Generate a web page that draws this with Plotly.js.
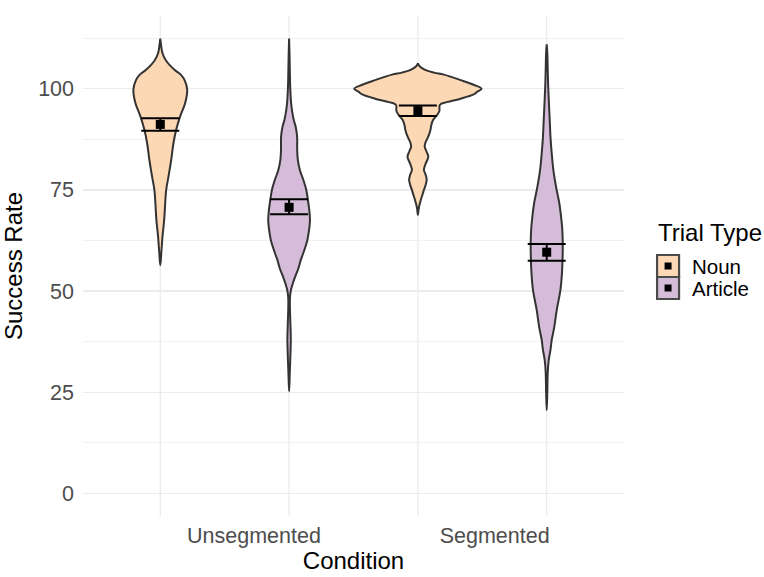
<!DOCTYPE html>
<html>
<head>
<meta charset="utf-8">
<script src="https://cdn.plot.ly/plotly-3.0.1.min.js"></script>
<style>html,body{margin:0;padding:0;background:#fff;}#chart{width:764px;height:577px;}</style>
</head>
<body>
<div id="chart"></div>
<script>
// ---- data ----
const conditions = ['Unsegmented', 'Segmented'];
const trialTypes = ['Noun', 'Article'];

// violin density profiles (value, relative half-width)
const nounUnsegY = [56.4, 59.4, 63.4, 67.6, 71.7, 75.0, 78.3, 82.4, 86.6, 89.9, 93.2, 96.5, 99.8, 102.2, 103.5, 104.7, 106.8, 108.8, 110.8, 112.4];
const nounUnsegD = [0, 1.0, 2.2, 3.9, 4.9, 5.9, 8.2, 10.9, 13.2, 15.9, 19.9, 24.9, 26.9, 24.2, 20.5, 14.2, 6.2, 2.2, 0.8, 0];

const articleUnsegY = [25.2, 30, 34, 38, 42, 46, 48.5, 50.2, 51.8, 53.5, 55.5, 57.7, 59.4, 62.5, 65.5, 67.6, 70, 72.7, 75, 77.5, 80, 82.5, 85, 88.2, 90.5, 92.3, 94.5, 96.5, 100.6, 105, 108.9, 112.4];
const articleUnsegD = [0, 0.7, 1.3, 1.7, 1.3, 0.8, 0.9, 1.8, 3.6, 6.0, 9.2, 11.7, 14.2, 18.2, 20.2, 20.9, 20.2, 18.7, 17.2, 14.2, 10.7, 8.7, 8.1, 8.0, 6.7, 4.7, 3.0, 2.0, 1.1, 0.7, 0.4, 0];

const nounSegY = [68.8, 70.0, 70.9, 72.5, 74.0, 75.0, 76.3, 77.5, 78.7, 80.0, 81.5, 83.2, 84.5, 85.7, 86.6, 87.4, 88.6, 89.9, 91.0, 92.3, 93.3, 94.5, 96.0, 96.7, 97.5, 98.6, 99.3, 100.0, 101.0, 102.2, 103.5, 104.0, 104.7, 105.5, 106.3];
const nounSegD = [0, 0.6, 1.2, 2.9, 4.8, 6.0, 7.8, 8.8, 7.8, 6.0, 7.8, 10.4, 8.6, 6.8, 7.4, 8.8, 11.0, 12.6, 13.4, 15.2, 18.5, 21.5, 21.9, 29, 42, 55.7, 59.5, 63.7, 55.7, 42, 26, 16, 7.2, 2.0, 0];

const articleSegY = [20.5, 25, 29.7, 32.9, 35.5, 37.9, 41, 45.3, 50.2, 55, 57.7, 59.3, 62.5, 65.5, 67.6, 71.7, 75.8, 80, 84.1, 88, 92.3, 96.5, 100.6, 104.8, 108.9, 111];
const articleSegD = [0, 0.6, 1.0, 2.0, 3.8, 5.0, 7.5, 10.0, 13.7, 15.4, 15.8, 16.0, 16.0, 15.5, 14.7, 12.6, 9.3, 6.6, 5.0, 3.8, 3.0, 2.2, 1.5, 1.0, 0.6, 0];

// mean and error bar ends per condition
const nounMean = [91.2, 94.6];
const nounUpper = [92.7, 95.9];
const nounLower = [89.6, 93.3];
const articleMean = [70.7, 59.6];
const articleUpper = [72.7, 61.6];
const articleLower = [69.0, 57.5];

// ---- styles ----
const fills = {Noun: '#FDD8B5', Article: '#D5BCD8'};
const outline = '#333333';
const densityToX = 1 / 128.9;   // half-width units -> x-axis units
const dodge = {Noun: 0, Article: 1};

function center(ci, type) { return ci * 2 + dodge[type] + 1; }

const profiles = {
  Noun: [[nounUnsegY, nounUnsegD], [nounSegY, nounSegD]],
  Article: [[articleUnsegY, articleUnsegD], [articleSegY, articleSegD]]
};

const traces = [];
trialTypes.forEach(type => {
  conditions.forEach((cond, ci) => {
    const [ys, ds] = profiles[type][ci];
    const c = center(ci, type);
    const xs = [], yy = [];
    for (let i = 0; i < ys.length; i++) { xs.push(c - ds[i] * densityToX); yy.push(ys[i]); }
    for (let i = ys.length - 1; i >= 0; i--) { xs.push(c + ds[i] * densityToX); yy.push(ys[i]); }
    traces.push({
      type: 'scatter', mode: 'lines', x: xs, y: yy,
      fill: 'toself', fillcolor: fills[type],
      line: {color: outline, width: 2, shape: 'spline', smoothing: 1.1},
      hoverinfo: 'skip', showlegend: false
    });
  });
});

const summary = {
  Noun: [nounMean, nounUpper, nounLower],
  Article: [articleMean, articleUpper, articleLower]
};
trialTypes.forEach(type => {
  const [m, up, lo] = summary[type];
  traces.push({
    type: 'scatter', mode: 'markers',
    x: conditions.map((c, ci) => center(ci, type)),
    y: m,
    marker: {symbol: 'square', size: 9, color: '#000'},
    error_y: {
      type: 'data', symmetric: false,
      array: up.map((u, i) => u - m[i]),
      arrayminus: lo.map((l, i) => m[i] - l),
      color: '#000', thickness: 2, width: 19
    },
    showlegend: false, hoverinfo: 'skip'
  });
});

// ---- layout ----
const L = 83, R = 624.4, T = 16, B = 516;
const px = v => (v - L) / (R - L);
const py = v => (B - v) / (B - T);

const shapes = [];
[1, 2, 3, 4].forEach(v => shapes.push({
  type: 'line', xref: 'x', yref: 'paper', x0: v, x1: v, y0: 0, y1: 1,
  line: {color: '#EBEBEB', width: 1.3}, layer: 'below'
}));

// legend keys
const annotations = [];
const keyTop = [255, 277];
trialTypes.forEach((type, i) => {
  shapes.push({
    type: 'rect', xref: 'paper', yref: 'paper',
    x0: px(657.5), x1: px(679.5), y0: py(keyTop[i] + 22), y1: py(keyTop[i]),
    fillcolor: fills[type], line: {color: '#4a4a4a', width: 2.2}
  });
  shapes.push({
    type: 'rect', xref: 'paper', yref: 'paper',
    x0: px(665), x1: px(672), y0: py(keyTop[i] + 14.5), y1: py(keyTop[i] + 7.5),
    fillcolor: '#000', line: {width: 0}
  });
  annotations.push({
    xref: 'paper', yref: 'paper', x: px(691), y: py(keyTop[i] + 11.5),
    xanchor: 'left', yanchor: 'middle', showarrow: false, text: type,
    font: {size: 20.5, color: '#000'}, borderpad: 0
  });
});
annotations.push({
  xref: 'paper', yref: 'paper', x: px(657), y: py(232),
  xanchor: 'left', yanchor: 'middle', showarrow: false, text: 'Trial Type',
  font: {size: 24, color: '#000'}, borderpad: 0
});

const layout = {
  width: 764, height: 577,
  margin: {l: L, r: 764 - R, t: T, b: 577 - B, pad: 0},
  paper_bgcolor: '#fff', plot_bgcolor: '#fff',
  font: {family: '"Liberation Sans", Arial, Helvetica, sans-serif'},
  showlegend: false,
  xaxis: {
    range: [0.4, 4.6], tickmode: 'array',
    tickvals: [1.727, 3.596], ticktext: conditions,
    showgrid: false, zeroline: false, showline: false, ticks: '',
    ticklabelstandoff: 4,
    tickfont: {size: 21.5, color: '#4D4D4D'},
    title: {text: 'Condition', font: {size: 24, color: '#000'}, standoff: 5}
  },
  yaxis: {
    range: [-5.62, 118.0], tickmode: 'array',
    tickvals: [0, 25, 50, 75, 100], ticktext: ['0', '25', '50', '75', '100'],
    showgrid: true, gridcolor: '#EBEBEB', gridwidth: 1.3,
    minor: {tickmode: 'array', tickvals: [12.5, 37.5, 62.5, 87.5, 112.5], showgrid: true, gridcolor: '#F1F1F1', gridwidth: 1, ticks: ''},
    zeroline: false, showline: false, ticks: '', ticklabelstandoff: 8,
    tickfont: {size: 21.5, color: '#4D4D4D'},
    title: {text: 'Success Rate', font: {size: 24, color: '#000'}, standoff: 8}
  },
  shapes: shapes,
  annotations: annotations
};

Plotly.newPlot('chart', traces, layout, {staticPlot: true, displayModeBar: false});
</script>
</body>
</html>
